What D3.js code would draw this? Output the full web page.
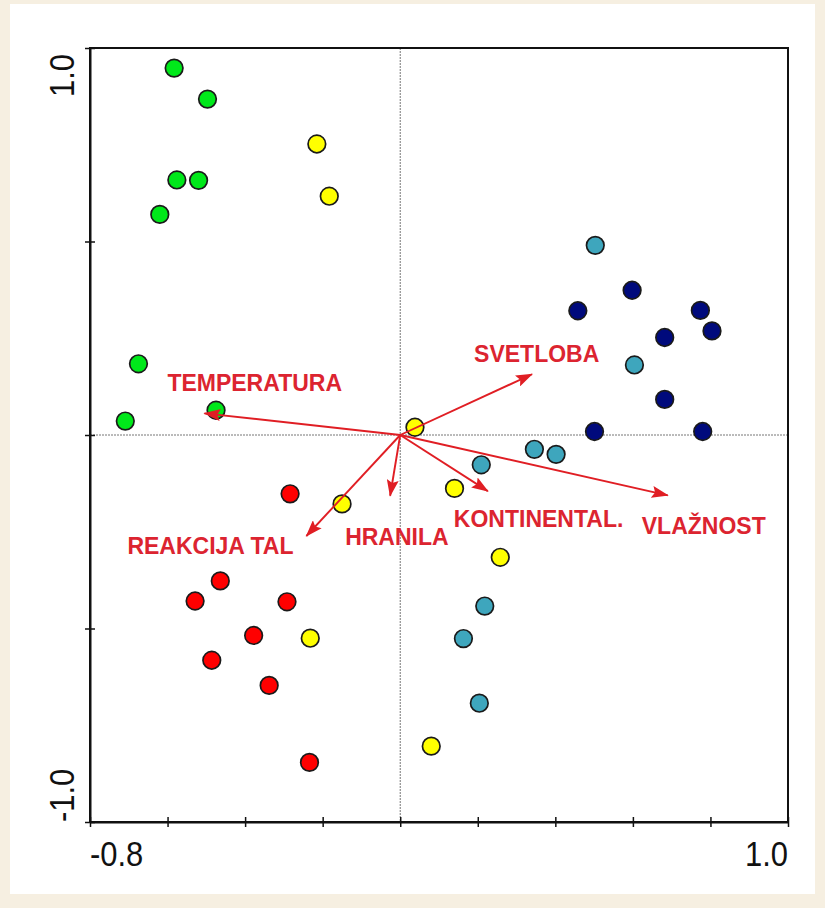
<!DOCTYPE html>
<html>
<head>
<meta charset="utf-8">
<script src="https://cdn.jsdelivr.net/npm/d3@7"></script>
<style>
  html, body { margin: 0; padding: 0; background: #f6efe1; }
  svg { display: block; }
</style>
</head>
<body>
<svg id="chart" width="825" height="908"></svg>
<script>
// ---- data ----
const groups = ["green", "yellow", "red", "lightblue", "navy"];
const greenX = [-0.583, -0.497, -0.576, -0.520, -0.620, -0.675, -0.709, -0.475];
const greenY = [0.948, 0.868, 0.659, 0.658, 0.570, 0.184, 0.036, 0.064];
const yellowX = [-0.215, -0.183, 0.038, -0.150, 0.140, 0.258, -0.232, 0.080];
const yellowY = [0.752, 0.617, 0.020, -0.178, -0.138, -0.316, -0.525, -0.804];
const redX = [-0.284, -0.464, -0.529, -0.292, -0.378, -0.486, -0.338, -0.234];
const redY = [-0.152, -0.377, -0.429, -0.431, -0.518, -0.582, -0.647, -0.846];
const lightblueX = [0.503, 0.604, 0.346, 0.402, 0.209, 0.218, 0.163, 0.204];
const lightblueY = [0.490, 0.181, -0.037, -0.050, -0.077, -0.442, -0.526, -0.693];
const navyX = [0.598, 0.458, 0.774, 0.804, 0.682, 0.682, 0.501, 0.780];
const navyY = [0.374, 0.321, 0.322, 0.269, 0.252, 0.092, 0.009, 0.009];

const variables = ["TEMPERATURA", "SVETLOBA", "HRANILA", "REAKCIJA TAL", "KONTINENTAL.", "VLAŽNOST"];
const varX = [-0.505, 0.340, -0.026, -0.242, 0.226, 0.690];
const varY = [0.056, 0.157, -0.157, -0.261, -0.145, -0.156];

const xTicks = [-0.8, -0.6, -0.4, -0.2, 0.0, 0.2, 0.4, 0.6, 0.8, 1.0];
const yTicks = [-1.0, -0.5, 0.0, 0.5, 1.0];
const xTickLabels = ["-0.8", "1.0"];
const yTickLabels = ["-1.0", "1.0"];

// ---- styles / layout ----
const groupColor = {green: "#00e81a", yellow: "#ffff00", red: "#ff0000", lightblue: "#3ea6bd", navy: "#000a7c"};
const labelOffsets = [[-37, -22], [-58, -12], [-45, 49], [-179, 18], [-34, 36], [-26, 39]];
const arrowColor = "#e01e24";
const textColor = "#dc2430";

const svg = d3.select("#chart");
svg.append("rect").attr("x", 10).attr("y", 4).attr("width", 805).attr("height", 890).attr("fill", "#ffffff");

const x = d3.scaleLinear().domain([-0.8, 1.0]).range([90, 788]);
const y = d3.scaleLinear().domain([-1.0, 1.0]).range([822, 48]);

// zero lines
svg.append("line").attr("x1", x(-0.8)).attr("x2", x(1.0)).attr("y1", y(0)).attr("y2", y(0))
  .attr("stroke", "#777").attr("stroke-width", 1).attr("stroke-dasharray", "2,1");
svg.append("line").attr("x1", x(0)).attr("x2", x(0)).attr("y1", y(1)).attr("y2", y(-1))
  .attr("stroke", "#777").attr("stroke-width", 1).attr("stroke-dasharray", "2,1");

// frame
svg.append("rect").attr("x", x(-0.8)).attr("y", y(1)).attr("width", x(1) - x(-0.8)).attr("height", y(-1) - y(1))
  .attr("fill", "none").attr("stroke", "#111").attr("stroke-width", 2);

// axes
const xAxis = d3.axisBottom(x).tickValues(xTicks).tickFormat("").tickSizeOuter(0).tickSizeInner(5);
const gx = svg.append("g").attr("transform", `translate(0,${y(-1)})`).call(xAxis);
gx.select(".domain").attr("stroke", "#111").attr("stroke-width", 2);
gx.selectAll(".tick line").attr("y1", -5).attr("y2", 5).attr("stroke", "#111").attr("stroke-width", 1.5);

const yAxis = d3.axisLeft(y).tickValues(yTicks).tickFormat("").tickSizeOuter(0).tickSizeInner(5);
const gy = svg.append("g").attr("transform", `translate(${x(-0.8)},0)`).call(yAxis);
gy.select(".domain").attr("stroke", "#111").attr("stroke-width", 2);
gy.selectAll(".tick line").attr("x1", -5).attr("x2", 5).attr("stroke", "#111").attr("stroke-width", 1.5);

const axisFont = "'Liberation Sans', Arial, sans-serif";
// x tick labels (ends only)
svg.append("text").text(xTickLabels[0])
  .attr("transform", `translate(${x(-0.8)},866) scale(0.86,1)`)
  .attr("font-family", axisFont).attr("font-size", 36).attr("fill", "#111");
svg.append("text").text(xTickLabels[1])
  .attr("transform", `translate(${x(1.0)},866) scale(0.86,1)`)
  .attr("text-anchor", "end")
  .attr("font-family", axisFont).attr("font-size", 36).attr("fill", "#111");
// y tick labels (rotated)
svg.append("text").text(yTickLabels[1])
  .attr("transform", `translate(74,${y(1) + 6}) rotate(-90) scale(0.86,1)`)
  .attr("text-anchor", "end")
  .attr("font-family", axisFont).attr("font-size", 36).attr("fill", "#111");
svg.append("text").text(yTickLabels[0])
  .attr("transform", `translate(74,${y(-1)}) rotate(-90) scale(0.86,1)`)
  .attr("text-anchor", "start")
  .attr("font-family", axisFont).attr("font-size", 36).attr("fill", "#111");

// arrowhead marker
const defs = svg.append("defs");
defs.append("marker").attr("id", "ah").attr("viewBox", "0 0 17 12")
  .attr("refX", 16).attr("refY", 6).attr("markerWidth", 17).attr("markerHeight", 12)
  .attr("markerUnits", "userSpaceOnUse").attr("orient", "auto")
  .append("path").attr("d", "M0,0 L17,6 L0,12 L3,6 Z").attr("fill", arrowColor);

// points
const pts = [];
const xs = {green: greenX, yellow: yellowX, red: redX, lightblue: lightblueX, navy: navyX};
const ys = {green: greenY, yellow: yellowY, red: redY, lightblue: lightblueY, navy: navyY};
groups.forEach(g => xs[g].forEach((vx, i) => pts.push({g, x: vx, y: ys[g][i]})));

const pg = svg.append("g");
pg.selectAll("circle").data(pts).enter().append("circle")
  .attr("cx", d => x(d.x)).attr("cy", d => y(d.y)).attr("r", 8.8)
  .attr("fill", d => groupColor[d.g]).attr("stroke", "#1a1a1a").attr("stroke-width", 1.7);

// arrows drawn over the markers, as in the reference
variables.forEach((v, i) => {
  svg.append("line")
    .attr("x1", x(0)).attr("y1", y(0))
    .attr("x2", x(varX[i])).attr("y2", y(varY[i]))
    .attr("stroke", arrowColor).attr("stroke-width", 1.9)
    .attr("marker-end", "url(#ah)");
});

// labels
variables.forEach((v, i) => {
  svg.append("text").text(v)
    .attr("x", x(varX[i]) + labelOffsets[i][0])
    .attr("y", y(varY[i]) + labelOffsets[i][1])
    .attr("font-family", "'Liberation Sans', Arial, sans-serif")
    .attr("font-weight", "bold").attr("font-size", 23)
    .attr("fill", textColor);
});
</script>
</body>
</html>
